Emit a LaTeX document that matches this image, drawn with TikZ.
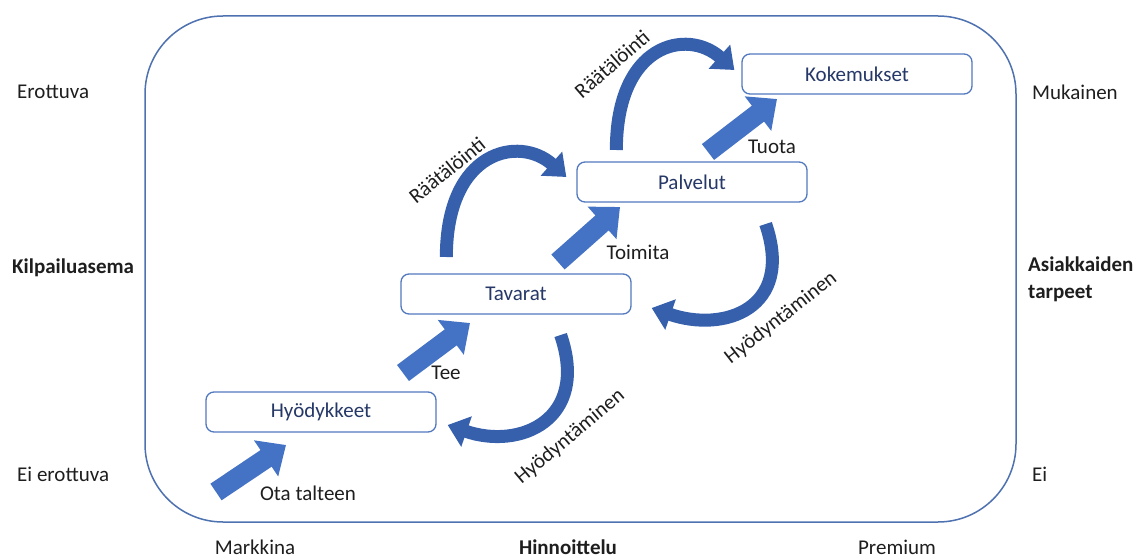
\documentclass[tikz,border=0pt]{standalone}
\usepackage{fontspec}
\setmainfont{Carlito}
\usepackage{xcolor}
\usepackage{tikz}
\usetikzlibrary{arrows.meta, positioning, calc}
\definecolor{frameblue}{RGB}{78,113,176}
\definecolor{boxblue}{RGB}{82,120,190}
\definecolor{boxtext}{RGB}{38,56,104}
\definecolor{arrowblue}{RGB}{68,114,196}
\definecolor{curveblue}{RGB}{54,96,172}
\definecolor{labeltext}{RGB}{30,30,30}
\tikzstyle{stage} = [rectangle, draw=boxblue, line width=1.3pt, fill=white, rounded corners=8pt, minimum width=230pt, minimum height=40pt, text=boxtext]
\tikzstyle{frameline} = [draw=frameblue, line width=1.5pt, rounded corners=78pt]
\tikzstyle{blockarrow} = [draw=arrowblue, line width=20pt, -{Triangle[width=42pt,length=24pt]}]
\tikzstyle{curvearrow} = [draw=curveblue, line width=13pt, -{Triangle[width=31pt,length=20pt]}]
\tikzstyle{sidelabel} = [text=labeltext, anchor=west, inner sep=0pt]
\tikzstyle{arrowlabel} = [text=labeltext, inner sep=0pt]

\begin{document}
\begin{tikzpicture}[x=1pt, y=-1pt, font=\fontsize{21}{27}\selectfont]
    \useasboundingbox (0,0) rectangle (1136,559);
    \draw [frameline] (145,16) rectangle (1016,522);

    % stages
    \node (kok) [stage] at (857,74) {Kokemukset};
    \node (pal) [stage] at (692,182) {Palvelut};
    \node (tav) [stage] at (516,294) {Tavarat};
    \node (hyo) [stage] at (321,412) {Hyödykkeet};

    % straight steps
    \coordinate (otatail) at (216,492);
    \coordinate (otatip) at (286,445);
    \coordinate (teetail) at (403,373);
    \coordinate (teetip) at (470,323);
    \coordinate (toitail) at (558,262);
    \coordinate (toitip) at (620,207);
    \coordinate (tuotail) at (708,152);
    \coordinate (tuotip) at (777,99);
    \draw [blockarrow] (otatail) -- (otatip);
    \draw [blockarrow] (teetail) -- (teetip);
    \draw [blockarrow] (toitail) -- (toitip);
    \draw [blockarrow] (tuotail) -- (tuotip);

    \node (ota) [arrowlabel] at (308,493) {Ota talteen};
    \node (tee) [arrowlabel] at (446,373) {Tee};
    \node (toi) [arrowlabel] at (638,252) {Toimita};
    \node (tuo) [arrowlabel] at (772,147) {Tuota};

    % curved steps
    \coordinate (r1tail) at ($(pal.west)+(-130,75)$);
    \coordinate (r1tip) at ($(pal.west)+(-10,-5)$);
    \coordinate (r2tail) at ($(kok.west)+(-125,76)$);
    \coordinate (r2tip) at ($(kok.west)+(-7,-4)$);
    \coordinate (h1tail) at ($(hyo.east)+(124,-77)$);
    \coordinate (h1tip) at ($(hyo.east)+(11,13)$);
    \coordinate (h2tail) at ($(tav.east)+(134,-70)$);
    \coordinate (h2tip) at ($(tav.east)+(20,14)$);
    \draw [curvearrow] (r1tail) .. controls +(0,-107) and +(-47,-42) .. (r1tip);
    \draw [curvearrow] (r2tail) .. controls +(0,-107) and +(-47,-42) .. (r2tip);
    \draw [curvearrow] (h1tail) .. controls +(29,85) and +(72,25) .. (h1tip);
    \draw [curvearrow] (h2tail) .. controls +(29,85) and +(72,25) .. (h2tip);

    \node (r1lbl) [arrowlabel, rotate=39] at (447,170) {Räätälöinti};
    \node (r2lbl) [arrowlabel, rotate=41] at (612,64) {Räätälöinti};
    \node (h1lbl) [arrowlabel, rotate=40] at (570,437) {Hyödyntäminen};
    \node (h2lbl) [arrowlabel, rotate=38] at (781,318) {Hyödyntäminen};

    % axes
    \node (ero) [sidelabel] at (17,92) {Erottuva};
    \node (kil) [sidelabel] at (12,268) {\textbf{Kilpailuasema}};
    \node (eie) [sidelabel] at (17,474) {Ei erottuva};
    \node (muk) [sidelabel] at (1032,92) {Mukainen};
    \node (asi) [sidelabel, align=left] at (1028,279) {\textbf{Asiakkaiden}\\\textbf{tarpeet}};
    \node (ei) [sidelabel] at (1032,474) {Ei};
    \node (mar) [arrowlabel] at (255,547) {Markkina};
    \node (hin) [arrowlabel] at (568,547) {\textbf{Hinnoittelu}};
    \node (pre) [arrowlabel] at (897,547) {Premium};
\end{tikzpicture}
\end{document}
